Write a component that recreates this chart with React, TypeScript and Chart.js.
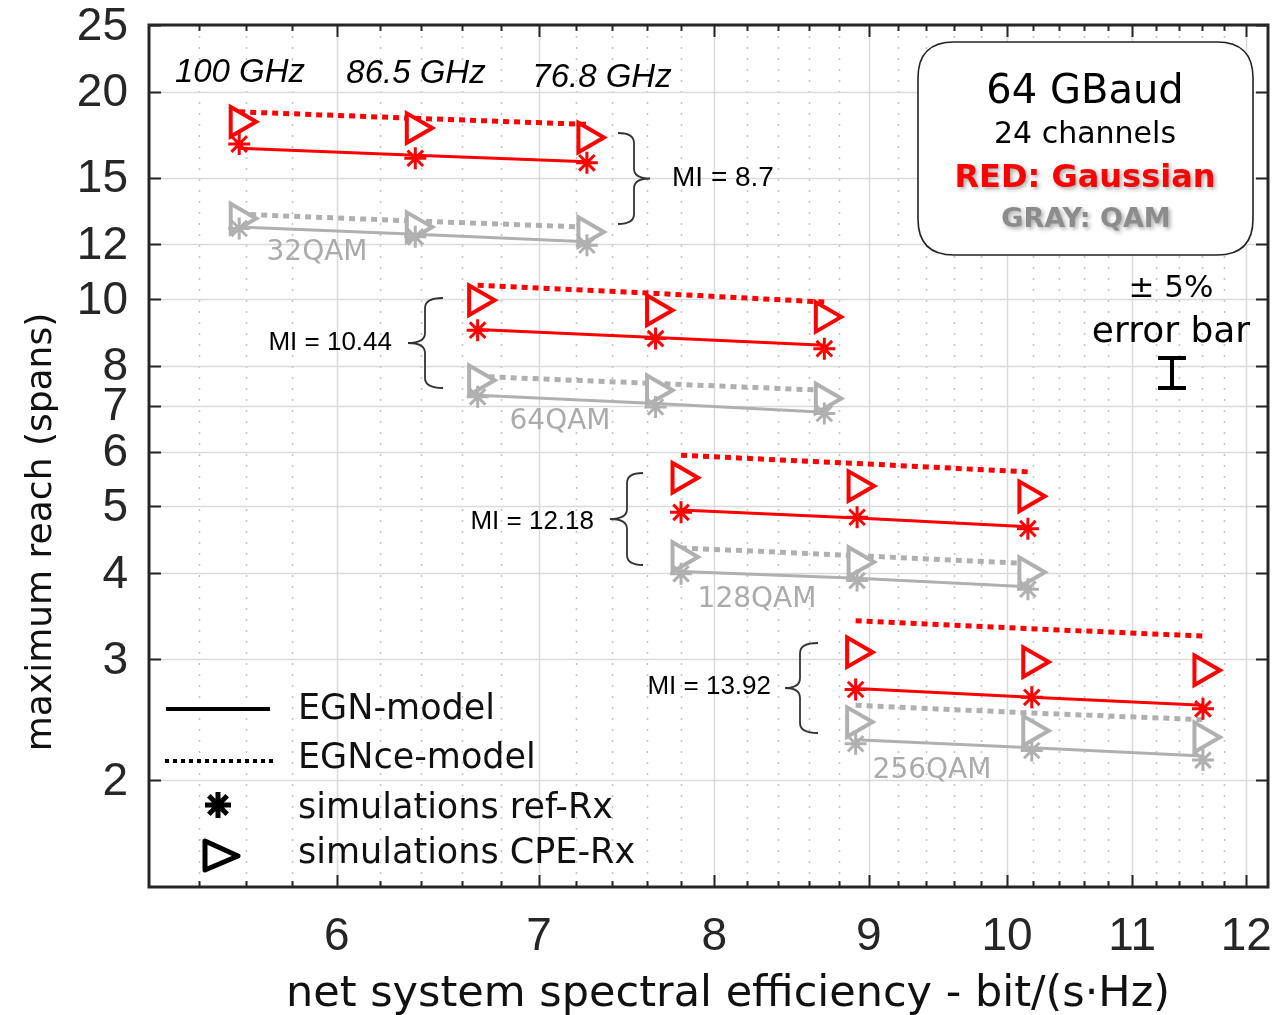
import React, { useEffect, useRef } from 'react';
import { Chart, registerables } from 'chart.js';

Chart.register(...registerables);

// ---------- axes ----------
const xMajorTicks = [6, 7, 8, 9, 10, 11, 12];
const yTickValues = [2, 3, 4, 5, 6, 7, 8, 10, 12, 15, 20, 25];
const xRange = [5.2, 12.2];
const yRange = [1.4, 25];

// ---------- spectral efficiency (100 / 86.5 / 76.8 GHz spacing) ----------
const se32QAM = [5.57, 6.37, 7.26];
const se64QAM = [6.68, 7.65, 8.7];
const se128QAM = [7.8, 8.92, 10.16];
const se256QAM = [8.91, 10.19, 11.61];

// ---------- RED: Gaussian constellation ----------
const gaussEGN32 = [16.56, 16.17, 15.82];
const gaussRef32 = [16.79, 16.01, 15.77];
const gaussEGNce32 = [18.7, 18.3, 17.93];
const gaussCPE32 = [18.09, 17.71, 17.16];

const gaussEGN64 = [9.03, 8.79, 8.57];
const gaussRef64 = [9.01, 8.76, 8.47];
const gaussEGNce64 = [10.47, 10.19, 9.9];
const gaussCPE64 = [9.96, 9.63, 9.42];

const gaussEGN128 = [4.94, 4.81, 4.67];
const gaussRef128 = [4.9, 4.82, 4.64];
const gaussEGNce128 = [5.93, 5.77, 5.61];
const gaussCPE128 = [5.5, 5.35, 5.17];

const gaussEGN256 = [2.72, 2.64, 2.57];
const gaussRef256 = [2.71, 2.64, 2.54];
const gaussEGNce256 = [3.41, 3.32, 3.24];
const gaussCPE256 = [3.07, 2.97, 2.89];

// ---------- GRAY: QAM ----------
const qamEGN32 = [12.72, 12.42, 12.11];
const qamRef32 = [12.66, 12.31, 11.97];
const qamEGNce32 = [13.28, 12.98, 12.72];
const qamCPE32 = [13.09, 12.72, 12.51];

const qamEGN64 = [7.25, 7.05, 6.85];
const qamRef64 = [7.21, 6.97, 6.82];
const qamEGNce64 = [7.72, 7.54, 7.37];
const qamCPE64 = [7.62, 7.37, 7.17];

const qamEGN128 = [4.02, 3.93, 3.82];
const qamRef128 = [3.99, 3.9, 3.79];
const qamEGNce128 = [4.35, 4.24, 4.13];
const qamCPE128 = [4.22, 4.15, 4.01];

const qamEGN256 = [2.29, 2.23, 2.17];
const qamRef256 = [2.26, 2.21, 2.14];
const qamEGNce256 = [2.57, 2.505, 2.45];
const qamCPE256 = [2.43, 2.36, 2.31];

// ---------- annotation texts ----------
const spacingLabels = ['100 GHz', '86.5 GHz', '76.8 GHz'];
const qamLabels = ['32QAM', '64QAM', '128QAM', '256QAM'];
const miLabels = ['MI = 8.7', 'MI = 10.44', 'MI = 12.18', 'MI = 13.92'];
const legendLabels = ['EGN-model', 'EGNce-model', 'simulations ref-Rx', 'simulations CPE-Rx'];

const RED = '#ff0000';
const GRAY = '#b0b0b0';
const DARK = '#262626';

// plot frame in canvas pixels
const AREA = { left: 149, top: 25, right: 1268, bottom: 887 };

const xMinorTicks: number[] = [];
for (let k = 27; k <= 60; k++) {
  const v = k / 5;
  if (!Number.isInteger(v)) xMinorTicks.push(v);
}
const xAllTicks = [...xMinorTicks, ...xMajorTicks].sort((a, b) => a - b);
const xScaleTicks = [xRange[0], ...xAllTicks, xRange[1]];

const pts = (xs: number[], ys: number[]) => xs.map((x, i) => ({ x, y: ys[i] }));

function group(xs: number[], egn: number[], ref: number[], egnce: number[], cpe: number[], color: string, base: number) {
  return [
    {
      data: pts(xs, egnce), showLine: true, borderColor: color, borderWidth: 5,
      borderDash: [6, 5], borderCapStyle: 'butt', pointRadius: 0, order: base + 3,
    },
    {
      data: pts(xs, cpe), showLine: false, pointStyle: 'triangle', pointRotation: 90,
      pointRadius: 17, pointBorderWidth: 4, pointBorderColor: color,
      pointBackgroundColor: '#ffffff', order: base + 2,
    },
    {
      data: pts(xs, egn), showLine: true, borderColor: color, borderWidth: 3,
      pointRadius: 0, order: base + 1,
    },
    {
      data: pts(xs, ref), showLine: false, pointStyle: 'star', pointRadius: 11,
      pointBorderWidth: 3, pointBorderColor: color, pointBackgroundColor: color, order: base,
    },
  ];
}

function brace(ctx: CanvasRenderingContext2D, xv: number, endX: number, tipX: number, yTop: number, yBot: number) {
  const ym = (yTop + yBot) / 2;
  const r = 10;
  ctx.beginPath();
  ctx.moveTo(endX, yTop);
  ctx.quadraticCurveTo(xv, yTop, xv, yTop + r);
  ctx.lineTo(xv, ym - r);
  ctx.quadraticCurveTo(xv, ym, tipX, ym);
  ctx.quadraticCurveTo(xv, ym, xv, ym + r);
  ctx.lineTo(xv, yBot - r);
  ctx.quadraticCurveTo(xv, yBot, endX, yBot);
  ctx.stroke();
}

const overlay = {
  id: 'overlay',
  afterLayout(chart: any) {
    const a = chart.chartArea;
    a.left = AREA.left; a.top = AREA.top; a.right = AREA.right; a.bottom = AREA.bottom;
    a.width = AREA.right - AREA.left; a.height = AREA.bottom - AREA.top;
    const x = chart.scales.x;
    x.left = AREA.left; x.right = AREA.right; x.width = AREA.right - AREA.left;
    x.top = AREA.bottom; x.bottom = chart.height; x.height = chart.height - AREA.bottom;
    x.configure();
    x._labelItems = null;
    const y = chart.scales.y;
    y.left = 0; y.right = AREA.left; y.width = AREA.left;
    y.top = AREA.top; y.bottom = AREA.bottom; y.height = AREA.bottom - AREA.top;
    y.configure();
    y._labelItems = null;
  },
  beforeDatasetsDraw(chart: any) {
    const { ctx, chartArea: a, scales } = chart;
    const x = scales.x, y = scales.y;
    ctx.save();
    ctx.strokeStyle = '#c2c2c2';
    ctx.lineWidth = 1.5;
    ctx.setLineDash([2, 9]);
    for (const v of xMinorTicks) {
      const px = Math.round(x.getPixelForValue(v)) + 0.5;
      ctx.beginPath(); ctx.moveTo(px, a.top); ctx.lineTo(px, a.bottom); ctx.stroke();
    }
    ctx.setLineDash([]);
    ctx.strokeStyle = '#dadada';
    for (const v of xMajorTicks) {
      const px = Math.round(x.getPixelForValue(v)) + 0.5;
      ctx.beginPath(); ctx.moveTo(px, a.top); ctx.lineTo(px, a.bottom); ctx.stroke();
    }
    for (const v of yTickValues) {
      const py = Math.round(y.getPixelForValue(v)) + 0.5;
      ctx.beginPath(); ctx.moveTo(a.left, py); ctx.lineTo(a.right, py); ctx.stroke();
    }
    ctx.restore();
  },
  afterDatasetsDraw(chart: any) {
    const { ctx } = chart;
    ctx.save();
    ctx.textBaseline = 'alphabetic';

    // channel spacing labels
    ctx.fillStyle = '#000';
    ctx.font = 'italic 33px "Liberation Sans", Arial, sans-serif';
    ctx.textAlign = 'center';
    ctx.fillText(spacingLabels[0], 240, 82);
    ctx.fillText(spacingLabels[1], 416, 83);
    ctx.fillText(spacingLabels[2], 602, 87);

    // QAM labels
    ctx.fillStyle = '#ababab';
    ctx.font = '28px "DejaVu Sans", sans-serif';
    ctx.fillText(qamLabels[0], 317, 260);
    ctx.fillText(qamLabels[1], 560, 429);
    ctx.fillText(qamLabels[2], 757, 607);
    ctx.fillText(qamLabels[3], 932, 778);

    // braces + MI
    ctx.strokeStyle = '#333';
    ctx.lineWidth = 1.8;
    brace(ctx, 634, 618, 650, 133, 224);
    brace(ctx, 425, 443, 408, 298, 388);
    brace(ctx, 627, 643, 610, 473, 565);
    brace(ctx, 800, 818, 785, 643, 733);
    ctx.fillStyle = '#000';
    ctx.font = '28px "Liberation Sans", Arial, sans-serif';
    ctx.textAlign = 'left';
    ctx.fillText(miLabels[0], 672, 186);
    ctx.font = '26px "Liberation Sans", Arial, sans-serif';
    ctx.textAlign = 'right';
    ctx.fillText(miLabels[1], 392, 350);
    ctx.fillText(miLabels[2], 594, 529);
    ctx.fillText(miLabels[3], 771, 694);

    // info box
    const bx = 918, by = 42, bw = 335, bh = 213, rr = 36;
    ctx.beginPath();
    ctx.moveTo(bx + rr, by);
    ctx.lineTo(bx + bw - rr, by);
    ctx.quadraticCurveTo(bx + bw, by, bx + bw, by + rr);
    ctx.lineTo(bx + bw, by + bh - rr);
    ctx.quadraticCurveTo(bx + bw, by + bh, bx + bw - rr, by + bh);
    ctx.lineTo(bx + rr, by + bh);
    ctx.quadraticCurveTo(bx, by + bh, bx, by + bh - rr);
    ctx.lineTo(bx, by + rr);
    ctx.quadraticCurveTo(bx, by, bx + rr, by);
    ctx.closePath();
    ctx.fillStyle = '#fff';
    ctx.fill();
    ctx.strokeStyle = '#222';
    ctx.lineWidth = 1.6;
    ctx.stroke();

    ctx.textAlign = 'center';
    ctx.fillStyle = '#000';
    ctx.font = '40px "DejaVu Sans", sans-serif';
    ctx.fillText('64 GBaud', 1085, 103);
    ctx.font = '30px "DejaVu Sans", sans-serif';
    ctx.fillText('24 channels', 1085, 143);
    ctx.save();
    ctx.shadowColor = 'rgba(0,0,0,0.35)';
    ctx.shadowBlur = 4;
    ctx.shadowOffsetX = 2;
    ctx.shadowOffsetY = 2;
    ctx.fillStyle = RED;
    ctx.font = 'bold 32px "DejaVu Sans", sans-serif';
    ctx.fillText('RED: Gaussian', 1085, 187);
    ctx.fillStyle = '#8c8c8c';
    ctx.font = 'bold 27px "DejaVu Sans", sans-serif';
    ctx.fillText('GRAY: QAM', 1086, 227);
    ctx.restore();

    // error bar note
    ctx.fillStyle = '#000';
    ctx.font = '31px "DejaVu Sans", sans-serif';
    ctx.fillText('\u00b1 5%', 1171, 297);
    ctx.font = '36px "DejaVu Sans", sans-serif';
    ctx.fillText('error bar', 1171, 342);
    ctx.strokeStyle = '#000';
    ctx.lineWidth = 4;
    ctx.beginPath();
    ctx.moveTo(1172, 358); ctx.lineTo(1172, 388);
    ctx.moveTo(1158, 358); ctx.lineTo(1186, 358);
    ctx.moveTo(1158, 388); ctx.lineTo(1186, 388);
    ctx.stroke();

    // legend
    ctx.strokeStyle = '#000';
    ctx.lineWidth = 4;
    ctx.beginPath(); ctx.moveTo(166, 709); ctx.lineTo(270, 709); ctx.stroke();
    ctx.setLineDash([4, 4]);
    ctx.beginPath(); ctx.moveTo(165, 761); ctx.lineTo(273, 761); ctx.stroke();
    ctx.setLineDash([]);
    ctx.lineWidth = 5;
    const sx = 218, sy = 805, sr = 13;
    ctx.beginPath();
    for (let k = 0; k < 4; k++) {
      const ang = (k * Math.PI) / 4;
      ctx.moveTo(sx - Math.cos(ang) * sr, sy - Math.sin(ang) * sr);
      ctx.lineTo(sx + Math.cos(ang) * sr, sy + Math.sin(ang) * sr);
    }
    ctx.stroke();
    ctx.beginPath(); ctx.arc(sx, sy, 6, 0, Math.PI * 2); ctx.fillStyle = '#000'; ctx.fill();
    ctx.lineWidth = 5;
    ctx.lineJoin = 'round';
    ctx.beginPath();
    ctx.moveTo(205, 841); ctx.lineTo(238, 856); ctx.lineTo(205, 870); ctx.closePath();
    ctx.stroke();

    ctx.fillStyle = '#111';
    ctx.textAlign = 'left';
    ctx.font = '35px "DejaVu Sans", sans-serif';
    ctx.fillText(legendLabels[0], 298, 719);
    ctx.fillText(legendLabels[1], 298, 768);
    ctx.fillText(legendLabels[2], 298, 818);
    ctx.fillText(legendLabels[3], 298, 863);

    ctx.restore();
  },
  afterDraw(chart: any) {
    const { ctx, chartArea: a, scales } = chart;
    const x = scales.x, y = scales.y;
    ctx.save();
    ctx.strokeStyle = DARK;
    ctx.lineWidth = 2;
    for (const v of xAllTicks) {
      const major = xMajorTicks.includes(v);
      const len = major ? 12 : 6;
      const px = Math.round(x.getPixelForValue(v)) + 0.5;
      ctx.beginPath();
      ctx.moveTo(px, a.bottom); ctx.lineTo(px, a.bottom - len);
      ctx.moveTo(px, a.top); ctx.lineTo(px, a.top + len);
      ctx.stroke();
    }
    for (const v of yTickValues) {
      const py = Math.round(y.getPixelForValue(v)) + 0.5;
      ctx.beginPath();
      ctx.moveTo(a.left, py); ctx.lineTo(a.left + 12, py);
      ctx.moveTo(a.right, py); ctx.lineTo(a.right - 12, py);
      ctx.stroke();
    }
    ctx.lineWidth = 3;
    ctx.strokeRect(a.left, a.top, a.right - a.left, a.bottom - a.top);

    // axis titles
    ctx.fillStyle = '#111';
    ctx.textBaseline = 'alphabetic';
    ctx.textAlign = 'center';
    ctx.font = '43px "DejaVu Sans", sans-serif';
    ctx.fillText('net system spectral efficiency - bit/(s\u00b7Hz)', 728, 1006);
    ctx.save();
    ctx.translate(51, 532);
    ctx.rotate(-Math.PI / 2);
    ctx.font = '36px "DejaVu Sans", sans-serif';
    ctx.fillText('maximum reach (spans)', 0, 0);
    ctx.restore();
    ctx.restore();
  },
};

export default function App() {
  const ref = useRef<HTMLCanvasElement | null>(null);
  useEffect(() => {
    document.body.style.margin = '0';
    const canvas = ref.current;
    if (!canvas) return;
    const datasets = [
      ...group(se32QAM, gaussEGN32, gaussRef32, gaussEGNce32, gaussCPE32, RED, 0),
      ...group(se64QAM, gaussEGN64, gaussRef64, gaussEGNce64, gaussCPE64, RED, 0),
      ...group(se128QAM, gaussEGN128, gaussRef128, gaussEGNce128, gaussCPE128, RED, 0),
      ...group(se256QAM, gaussEGN256, gaussRef256, gaussEGNce256, gaussCPE256, RED, 0),
      ...group(se32QAM, qamEGN32, qamRef32, qamEGNce32, qamCPE32, GRAY, 4),
      ...group(se64QAM, qamEGN64, qamRef64, qamEGNce64, qamCPE64, GRAY, 4),
      ...group(se128QAM, qamEGN128, qamRef128, qamEGNce128, qamCPE128, GRAY, 4),
      ...group(se256QAM, qamEGN256, qamRef256, qamEGNce256, qamCPE256, GRAY, 4),
    ];
    const chart = new Chart(canvas, {
      type: 'scatter',
      data: { datasets: datasets as any },
      options: {
        responsive: false,
        animation: false,
        devicePixelRatio: 1,
        events: [],
        layout: { padding: { left: 0, top: 25, right: 8, bottom: 0 } },
        plugins: { legend: { display: false }, tooltip: { enabled: false } },
        scales: {
          x: {
            type: 'logarithmic',
            min: xRange[0],
            max: xRange[1],
            afterBuildTicks: (s: any) => { s.ticks = xScaleTicks.map((v) => ({ value: v })); },
            afterFit: (s: any) => {
              s.height = 128;
              s.paddingLeft = 0; s.paddingRight = 0; s.paddingTop = 0; s.paddingBottom = 0;
            },
            grid: { display: false, drawTicks: false },
            border: { display: false },
            ticks: {
              autoSkip: false, maxRotation: 0, minRotation: 0, padding: 27,
              color: DARK,
              font: { family: '"Liberation Sans", Arial, sans-serif', size: 46, lineHeight: 1 },
              callback: (v: any) => (xMajorTicks.includes(Number(v)) ? String(v) : ''),
            },
          },
          y: {
            type: 'logarithmic',
            min: yRange[0],
            max: yRange[1],
            afterBuildTicks: (s: any) => { s.ticks = yTickValues.map((v) => ({ value: v })); },
            afterFit: (s: any) => {
              s.width = 149;
              s.paddingLeft = 0; s.paddingRight = 0; s.paddingTop = 0; s.paddingBottom = 0;
            },
            grid: { display: false, drawTicks: false },
            border: { display: false },
            ticks: {
              autoSkip: false, padding: 21, color: DARK, labelOffset: 2,
              font: { family: '"Liberation Sans", Arial, sans-serif', size: 46, lineHeight: 1 },
              callback: (v: any) => String(v),
            },
          },
        },
      },
      plugins: [overlay],
    } as any);
    return () => chart.destroy();
  }, []);
  return (
    <div style={{ width: 1276, height: 1015, overflow: 'hidden', background: '#fff' }}>
      <canvas ref={ref} width={1276} height={1015} style={{ display: 'block' }} />
    </div>
  );
}
